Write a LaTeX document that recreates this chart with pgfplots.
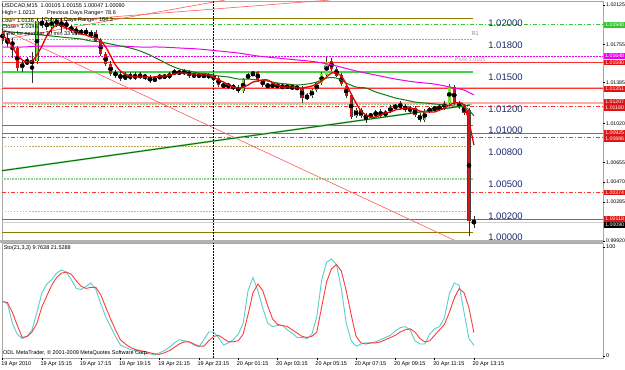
\documentclass[border=0pt]{standalone}
\usepackage{pgfplots}
\pgfplotsset{compat=1.18}
\usepackage{pgfplotstable}
\usepackage{fontspec}
\setmainfont{Liberation Sans}
\definecolor{upc}{RGB}{120,225,50}
\definecolor{dnc}{RGB}{220,20,20}
\definecolor{olivel}{RGB}{140,120,0}
\definecolor{olived}{RGB}{185,165,90}
\definecolor{lgreen}{RGB}{70,210,70}
\definecolor{lgreen2}{RGB}{140,215,140}
\definecolor{lvl}{RGB}{255,50,50}
\definecolor{pinkl}{RGB}{255,170,170}
\definecolor{navyt}{RGB}{30,40,110}
\definecolor{magc}{RGB}{240,0,240}
\definecolor{stm}{RGB}{90,205,205}
\definecolor{sts}{RGB}{255,60,60}
\definecolor{mared}{RGB}{235,0,0}
\definecolor{magreen}{RGB}{20,120,20}
\definecolor{lngreen}{RGB}{0,110,0}
\definecolor{boxgreen}{RGB}{50,200,50}
\newcommand{\sm}{\fontsize{5.5}{6}\selectfont}
\newcommand{\smb}{\fontsize{5.2}{5.5}\selectfont}
\newcommand{\bigp}{\fontsize{9.5}{10}\selectfont}
\newcommand{\biglab}[2]{\node[anchor=north west, inner sep=0pt, text=navyt, font=\bigp, yshift=-1.5pt] at (axis cs:98.9,#1) {#2};}
\newcommand{\rlab}[2]{\draw[black] (axis cs:122.3,#1) -- ++(2pt,0pt); \node[anchor=west, inner sep=0pt, font=\smb, xshift=3pt] at (axis cs:122.3,#1) {#2};}
\newcommand{\rbox}[3]{\node[anchor=west, inner sep=0pt, fill=#3, text=white, font=\smb, minimum width=21pt, minimum height=5.6pt, xshift=1pt] at (axis cs:122.3,#1) {#2};}
\newcommand{\tlab}[2]{\draw (axis cs:#1,-1.83) -- ++(0pt,-2pt); \node[anchor=north west, inner sep=0pt, font=\sm, xshift=-1.5pt, yshift=-3pt] at (axis cs:#1,-1.83) {#2};}

\pgfplotstableread{
i o h l c
2 1.01752 1.01817 1.01630 1.01780
4 1.01537 1.01612 1.01500 1.01584
6 1.01584 1.01686 1.01397 1.01602
7 1.01602 1.02004 1.01574 1.01976
9 1.01929 1.01985 1.01892 1.01957
10 1.01920 1.02013 1.01864 1.01985
12 1.01938 1.02004 1.01873 1.01967
17 1.01864 1.01910 1.01836 1.01882
18 1.01836 1.01892 1.01817 1.01873
25 1.01434 1.01500 1.01425 1.01471
27 1.01443 1.01500 1.01425 1.01471
31 1.01415 1.01462 1.01406 1.01443
32 1.01443 1.01481 1.01434 1.01462
34 1.01453 1.01500 1.01434 1.01481
35 1.01481 1.01528 1.01471 1.01509
37 1.01490 1.01528 1.01471 1.01509
39 1.01462 1.01490 1.01453 1.01471
41 1.01462 1.01481 1.01443 1.01471
46 1.01369 1.01397 1.01341 1.01378
49 1.01322 1.01443 1.01303 1.01434
50 1.01443 1.01490 1.01434 1.01471
51 1.01471 1.01509 1.01462 1.01490
55 1.01369 1.01397 1.01350 1.01378
58 1.01359 1.01387 1.01341 1.01369
60 1.01350 1.01369 1.01331 1.01359
62 1.01257 1.01303 1.01238 1.01275
63 1.01275 1.01341 1.01257 1.01331
64 1.01331 1.01406 1.01313 1.01397
65 1.01397 1.01500 1.01378 1.01481
66 1.01471 1.01640 1.01462 1.01593
72 1.01089 1.01163 1.01070 1.01145
75 1.01089 1.01117 1.01070 1.01098
76 1.01098 1.01145 1.01079 1.01126
78 1.01098 1.01145 1.01079 1.01126
79 1.01126 1.01191 1.01117 1.01173
80 1.01173 1.01201 1.01145 1.01182
86 1.01051 1.01154 1.01033 1.01135
87 1.01135 1.01173 1.01117 1.01154
88 1.01154 1.01182 1.01135 1.01163
89 1.01163 1.01191 1.01135 1.01173
90 1.01163 1.01229 1.01145 1.01210
91 1.01210 1.01387 1.01191 1.01369
}\upbars

\pgfplotstableread{
i o h l c
0 1.01873 1.01910 1.01761 1.01798
1 1.01798 1.01864 1.01733 1.01770
3 1.01724 1.01742 1.01509 1.01537
5 1.01593 1.01640 1.01565 1.01584
8 1.01976 1.02013 1.01910 1.01938
11 1.01985 1.02004 1.01920 1.01948
13 1.01967 1.01985 1.01892 1.01920
14 1.01920 1.01938 1.01864 1.01892
15 1.01892 1.01920 1.01845 1.01882
16 1.01882 1.01901 1.01845 1.01864
19 1.01873 1.01892 1.01780 1.01798
20 1.01798 1.01817 1.01649 1.01668
21 1.01668 1.01686 1.01556 1.01574
22 1.01574 1.01602 1.01462 1.01481
23 1.01490 1.01518 1.01443 1.01471
24 1.01481 1.01509 1.01415 1.01434
26 1.01471 1.01500 1.01425 1.01443
28 1.01471 1.01500 1.01434 1.01453
29 1.01462 1.01481 1.01425 1.01453
30 1.01453 1.01471 1.01397 1.01415
33 1.01462 1.01481 1.01434 1.01453
36 1.01500 1.01518 1.01471 1.01490
38 1.01509 1.01518 1.01443 1.01462
40 1.01471 1.01490 1.01443 1.01462
42 1.01471 1.01490 1.01434 1.01453
43 1.01453 1.01471 1.01425 1.01443
44 1.01443 1.01462 1.01359 1.01378
45 1.01378 1.01397 1.01350 1.01369
47 1.01369 1.01387 1.01331 1.01350
48 1.01350 1.01378 1.01303 1.01331
52 1.01500 1.01509 1.01406 1.01425
53 1.01425 1.01434 1.01359 1.01378
54 1.01378 1.01387 1.01350 1.01369
56 1.01378 1.01387 1.01350 1.01369
57 1.01369 1.01378 1.01341 1.01359
59 1.01369 1.01378 1.01331 1.01350
61 1.01350 1.01369 1.01210 1.01257
67 1.01602 1.01630 1.01509 1.01528
68 1.01528 1.01546 1.01453 1.01471
69 1.01471 1.01490 1.01369 1.01387
70 1.01369 1.01387 1.01257 1.01275
71 1.01285 1.01294 1.01061 1.01079
73 1.01145 1.01163 1.01070 1.01089
74 1.01089 1.01117 1.01023 1.01079
77 1.01135 1.01154 1.01070 1.01089
81 1.01210 1.01229 1.01145 1.01163
82 1.01182 1.01201 1.01126 1.01145
83 1.01163 1.01182 1.01117 1.01135
84 1.01163 1.01182 1.01079 1.01098
85 1.01098 1.01117 1.01033 1.01051
92 1.01359 1.01378 1.01191 1.01210
93 1.01210 1.01229 1.01154 1.01173
94 1.01182 1.01201 1.01098 1.01117
95 1.01145 1.01163 0.99968 1.00110
96 1.00105 1.00155 1.00047 1.00090
}\downbars

\pgfplotstableread{
i v
0 1.01845
1 1.01798
2 1.01733
3 1.01658
4 1.01612
5 1.01593
6 1.01602
7 1.01658
8 1.01742
9 1.01836
10 1.01901
11 1.01938
12 1.01929
13 1.01910
14 1.01892
15 1.01873
16 1.01854
17 1.01845
18 1.01826
19 1.01817
20 1.01789
21 1.01733
22 1.01649
23 1.01565
24 1.01509
25 1.01481
26 1.01462
27 1.01453
28 1.01453
29 1.01453
30 1.01453
31 1.01453
32 1.01462
33 1.01462
34 1.01471
35 1.01481
36 1.01490
37 1.01490
38 1.01481
39 1.01481
40 1.01481
41 1.01471
42 1.01471
43 1.01453
44 1.01425
45 1.01406
46 1.01378
47 1.01359
48 1.01350
49 1.01359
50 1.01378
51 1.01406
52 1.01415
53 1.01425
54 1.01425
55 1.01397
56 1.01378
57 1.01359
58 1.01359
59 1.01359
60 1.01350
61 1.01350
62 1.01359
63 1.01369
64 1.01387
65 1.01415
66 1.01453
67 1.01490
68 1.01490
69 1.01462
70 1.01387
71 1.01294
72 1.01210
73 1.01135
74 1.01098
75 1.01079
76 1.01079
77 1.01098
78 1.01117
79 1.01126
80 1.01145
81 1.01154
82 1.01163
83 1.01163
84 1.01154
85 1.01135
86 1.01126
87 1.01126
88 1.01126
89 1.01145
90 1.01163
91 1.01191
92 1.01210
93 1.01210
94 1.01191
95 1.01033
96 1.00818
}\mared

\pgfplotstableread{
i v
0 1.01882
2 1.01873
4 1.01864
6 1.01854
8 1.01845
10 1.01836
12 1.01826
14 1.01817
16 1.01808
18 1.01789
20 1.01780
22 1.01761
24 1.01742
26 1.01724
28 1.01696
30 1.01658
32 1.01612
34 1.01565
36 1.01528
38 1.01509
40 1.01490
42 1.01481
44 1.01462
46 1.01453
48 1.01434
50 1.01434
52 1.01425
54 1.01415
56 1.01397
58 1.01387
60 1.01378
62 1.01387
64 1.01406
66 1.01443
68 1.01443
70 1.01397
72 1.01359
74 1.01350
76 1.01313
78 1.01285
80 1.01257
82 1.01238
84 1.01219
86 1.01210
88 1.01201
90 1.01191
92 1.01182
94 1.01173
95 1.01145
96 1.01089
}\magr

\pgfplotstableread{
i v
0 1.01733
4 1.01733
8 1.01742
12 1.01742
16 1.01742
20 1.01742
24 1.01742
28 1.01733
32 1.01733
36 1.01724
40 1.01714
44 1.01696
48 1.01677
52 1.01649
56 1.01630
60 1.01612
64 1.01593
68 1.01556
72 1.01509
76 1.01471
80 1.01434
84 1.01406
88 1.01387
92 1.01350
94 1.01331
96 1.01285
}\mamag

\pgfplotstableread{
i v
-0.53 1.00575
95.2 1.01191
}\malong

\pgfplotstableread{
i m s
0 50 50
1 48 49
2 30 40
3 20 28
4 16 17
5 18 18
6 24 22
7 40 30
8 58 45
9 66 55
10 70 65
11 76 72
12 79 76
13 77 77
14 70 75
15 62 69
16 61 64
17 64 62
18 67 63
19 61 63
20 48 56
21 36 45
22 27 34
23 18 24
24 10 15
25 8 11
26 6 8
27 5 6
28 3 5
29 2.5 4
30 2 3
31 1 2
32 3 1.5
33 5 3
34 8 5
35 12 8
36 15 11
37 14 13
38 13 13
39 10 11
40 8.5 9
41 15 9
42 22 14
43 22 18
44 17 19
45 10 16
46 12 13
47 15 13
48 20 14
49 30 20
50 60 38
51 72 58
52 60 66
53 44 60
54 30 46
55 27 34
56 28 29
57 28 28
58 24 27
59 21 24
60 17 21
61 17 18
62 16 17
63 20 18
64 36 22
65 70 45
66 86 68
67 89 80
68 84 84
69 62 78
70 30 60
71 14 38
72 9 18
73 11 12
74 12 11
75 12 12
76 13 12
77 15 13
78 17 15
79 19 17
80 23 19
81 26 22
82 27 24
83 24 25
84 14 22
85 11 16
86 11 13
87 20 14
88 25 19
89 27 24
90 35 29
91 57 40
92 67 53
93 65 62
94 40 58
95 16 44
96 9.76 21.53
}\stoch

\begin{document}
\begin{tikzpicture}
\path[use as bounding box, fill=white] (0pt,0pt) rectangle (625pt,370pt);

\begin{axis}[at={(2pt,130pt)}, anchor=south west, scale only axis,
  width=601pt, height=239pt, xmin=-0.12, xmax=122.3, ymin=0.99930, ymax=1.02163,
  ticks=none, axis line style={draw=gray!70, line width=0.6pt}, clip mode=individual]
% level lines
\addplot[olivel, line width=1.1pt] coordinates {(-0.12,1.0200) (95.8,1.0200)};
\addplot[boxgreen, line width=0.8pt, dash pattern=on 4pt off 2pt on 1pt off 2pt] coordinates {(-0.12,1.01940) (122.3,1.01940)};
\addplot[olived, line width=0.8pt, dash pattern=on 1.5pt off 1.5pt] coordinates {(-0.12,1.0180) (95.8,1.0180)};
\addplot[magc, line width=0.8pt, dash pattern=on 1.5pt off 1.5pt] coordinates {(-0.12,1.01648) (122.3,1.01648)};
\addplot[lvl, line width=0.8pt] coordinates {(-0.12,1.01590) (122.3,1.01590)};
\addplot[lgreen, line width=1.6pt] coordinates {(-0.12,1.0150) (95.8,1.0150)};
\addplot[pinkl, line width=2pt] coordinates {(-0.12,1.01351) (122.3,1.01351)};
\addplot[lvl, line width=0.8pt] coordinates {(-0.12,1.01351) (122.3,1.01351)};
\addplot[pinkl, line width=2pt] coordinates {(-0.12,1.01207) (122.3,1.01207)};
\addplot[lgreen2, line width=0.8pt, dash pattern=on 1.5pt off 1.5pt] coordinates {(-0.12,1.0120) (95.8,1.0120)};
\addplot[lvl, line width=0.8pt, dash pattern=on 4pt off 2pt on 1pt off 2pt] coordinates {(-0.12,1.01180) (122.3,1.01180)};
\addplot[olivel, line width=1.1pt] coordinates {(-0.12,1.0100) (95.8,1.0100)};
\addplot[lvl, line width=0.8pt] coordinates {(-0.12,1.00925) (122.3,1.00925)};
\addplot[lvl, line width=0.8pt, dash pattern=on 4pt off 2pt on 1pt off 2pt] coordinates {(-0.12,1.00886) (122.3,1.00886)};
\addplot[olived, line width=0.8pt, dash pattern=on 1.5pt off 1.5pt] coordinates {(-0.12,1.0080) (95.8,1.0080)};
\addplot[lgreen2, line width=1.6pt, dash pattern=on 1pt off 0.6pt] coordinates {(-0.12,1.0050) (95.8,1.0050)};
\addplot[lvl, line width=0.8pt, dash pattern=on 4pt off 2pt on 1pt off 2pt] coordinates {(-0.12,1.00374) (122.3,1.00374)};
\addplot[lgreen2, line width=0.8pt, dash pattern=on 1.5pt off 1.5pt] coordinates {(-0.12,1.0020) (95.8,1.0020)};
\addplot[gray!40, line width=0.8pt] coordinates {(-0.12,1.00090) (122.3,1.00090)};
\addplot[lvl, line width=0.8pt] coordinates {(-0.12,1.00118) (122.3,1.00118)};
\addplot[olivel, line width=1.1pt] coordinates {(-0.12,1.0000) (95.8,1.0000)};
% trend lines
\addplot[lvl!80, line width=0.6pt] coordinates {(-0.53,1.01910) (93.2,0.99902)};
\addplot[lvl!80, line width=0.6pt] coordinates {(-0.53,1.01798) (45.3,1.02172)};
\addplot[lvl!80, line width=0.6pt] coordinates {(-0.53,1.01933) (66.7,1.02172)};
\addplot[lgreen2, line width=1.8pt] table[x=i,y=v] {\malong};
\addplot[lngreen, line width=0.9pt] table[x=i,y=v] {\malong};
% period separator
\addplot[black, line width=0.5pt, dash pattern=on 1.5pt off 1.5pt] coordinates {(42.9,0.99930) (42.9,1.02163)};
% candles: wicks
\addplot[only marks, mark=none, error bars/.cd, y dir=both, y explicit, error mark=none,
  error bar style={black!80, line width=0.6pt}]
  table[x=i, y expr={(\thisrow{h}+\thisrow{l})/2}, y error expr={(\thisrow{h}-\thisrow{l})/2}] {\upbars};
\addplot[only marks, mark=none, error bars/.cd, y dir=both, y explicit, error mark=none,
  error bar style={black!80, line width=0.6pt}]
  table[x=i, y expr={(\thisrow{h}+\thisrow{l})/2}, y error expr={(\thisrow{h}-\thisrow{l})/2}] {\downbars};
% bodies outline
\addplot[only marks, mark=none, error bars/.cd, y dir=both, y explicit, error mark=none,
  error bar style={black!75, line width=3.2pt}]
  table[x=i, y expr={(\thisrow{o}+\thisrow{c})/2}, y error expr={abs(\thisrow{c}-\thisrow{o})/2+0.00003}] {\upbars};
\addplot[only marks, mark=none, error bars/.cd, y dir=both, y explicit, error mark=none,
  error bar style={black!75, line width=3.2pt}]
  table[x=i, y expr={(\thisrow{o}+\thisrow{c})/2}, y error expr={abs(\thisrow{c}-\thisrow{o})/2+0.00003}] {\downbars};
% bodies fill
\addplot[only marks, mark=none, error bars/.cd, y dir=both, y explicit, error mark=none,
  error bar style={upc, line width=2.4pt}]
  table[x=i, y expr={(\thisrow{o}+\thisrow{c})/2}, y error expr={abs(\thisrow{c}-\thisrow{o})/2}] {\upbars};
\addplot[only marks, mark=none, error bars/.cd, y dir=both, y explicit, error mark=none,
  error bar style={dnc, line width=2.4pt}]
  table[x=i, y expr={(\thisrow{o}+\thisrow{c})/2}, y error expr={abs(\thisrow{c}-\thisrow{o})/2}] {\downbars};
% moving averages
\addplot[magc, line width=1pt, smooth] table[x=i,y=v] {\mamag};
\addplot[magreen, line width=1pt, smooth] table[x=i,y=v] {\magr};
\addplot[mared, line width=1.3pt, smooth] table[x=i,y=v] {\mared};

% big level labels
\biglab{1.0200}{1.02000}
\biglab{1.0180}{1.01800}
\biglab{1.0150}{1.01500}
\biglab{1.0120}{1.01200}
\biglab{1.0100}{1.01000}
\biglab{1.0080}{1.00800}
\biglab{1.0050}{1.00500}
\biglab{1.0020}{1.00200}
\biglab{1.0000}{1.00000}
\node[anchor=west, inner sep=0pt, text=gray, font=\sm] at (axis cs:95.5,1.01860) {R1};
\node[anchor=west, inner sep=0pt, text=gray!70, font=\sm] at (axis cs:92.1,1.01612) {Pivot 1.0165};
% right price scale
\rlab{1.02125}{1.02125}
\rlab{1.01755}{1.01755}
\rlab{1.01400}{1.01385}
\rlab{1.0102}{1.01020}
\rlab{1.00655}{1.00655}
\rlab{1.0047}{1.00470}
\rlab{1.00285}{1.00285}
\rlab{0.9992}{0.99920}
\rbox{1.01940}{1.01940}{boxgreen}
\rbox{1.01648}{1.01648}{magc}
\rbox{1.01590}{1.01590}{dnc}
\rbox{1.01343}{1.01351}{dnc}
\rbox{1.01220}{1.01207}{dnc}
\rbox{1.01166}{1.01180}{dnc}
\rbox{1.00928}{1.00925}{dnc}
\rbox{1.00872}{1.00886}{dnc}
\rbox{1.00374}{1.00374}{dnc}
\rbox{1.00072}{1.00090}{black}
\rbox{1.00128}{1.00118}{dnc}
\end{axis}

\fill[gray!60] (0pt,127pt) rectangle (603pt,130pt);

\begin{axis}[at={(2pt,12pt)}, anchor=south west, scale only axis,
  width=601pt, height=115pt, xmin=-0.12, xmax=122.3, ymin=-1.83, ymax=103.7,
  ticks=none, axis line style={draw=gray!70, line width=0.6pt}, clip mode=individual]
\addplot[black, line width=0.5pt, dash pattern=on 1.5pt off 1.5pt] coordinates {(42.9,-1.83) (42.9,103.7)};
\addplot[stm, line width=0.9pt] table[x=i,y=m] {\stoch};
\addplot[sts, line width=0.9pt] table[x=i,y=s] {\stoch};
\node[anchor=west, inner sep=0pt, font=\sm, xshift=3pt] at (axis cs:122.3,100) {100};
\node[anchor=west, inner sep=0pt, font=\sm, xshift=3pt] at (axis cs:122.3,0) {0};
\draw (axis cs:122.3,100) -- ++(2pt,0pt);
\draw (axis cs:122.3,0) -- ++(2pt,0pt);
\node[anchor=north west, inner sep=0pt, font=\sm, xshift=1pt, yshift=-2.5pt] at (axis cs:0,103.7) {Sto(21,3,3) 9.7638 21.5288};
\node[anchor=south west, inner sep=0pt, font=\sm, xshift=1pt, yshift=2pt] at (axis cs:-0.12,-1.83) {ODL MetaTrader, © 2001-2009 MetaQuotes Software Corp.};
\tlab{0}{19 Apr 2010}
\tlab{8}{19 Apr 15:15}
\tlab{16}{19 Apr 17:15}
\tlab{24}{19 Apr 19:15}
\tlab{32}{19 Apr 21:15}
\tlab{40}{19 Apr 23:15}
\tlab{48}{20 Apr 01:15}
\tlab{56}{20 Apr 03:15}
\tlab{64}{20 Apr 05:15}
\tlab{72}{20 Apr 07:15}
\tlab{80}{20 Apr 09:15}
\tlab{88}{20 Apr 11:15}
\tlab{96}{20 Apr 13:15}
\end{axis}

% header texts
\node[anchor=west, inner sep=0pt, font=\sm] at (2pt,364pt) {USDCAD,M15\ \ 1.00105 1.00155 1.00047 1.00090};
\node[anchor=west, inner sep=0pt, font=\sm] at (2pt,357pt) {High= 1.0213};
\node[anchor=west, inner sep=0pt, font=\sm] at (47pt,357pt) {Previous Days Range= 78.6};
\node[anchor=west, inner sep=0pt, font=\sm] at (2pt,349.5pt) {Low= 1.0136};
\node[anchor=west, inner sep=0pt, font=\sm] at (44pt,349.5pt) {Current Days Range= 164.3};
\node[anchor=west, inner sep=0pt, font=\sm] at (2pt,343pt) {Close= 1.0146};
\node[anchor=west, inner sep=0pt, font=\sm] at (3pt,336pt) {Time for next bar 10 min 33 sec};
\end{tikzpicture}
\end{document}
